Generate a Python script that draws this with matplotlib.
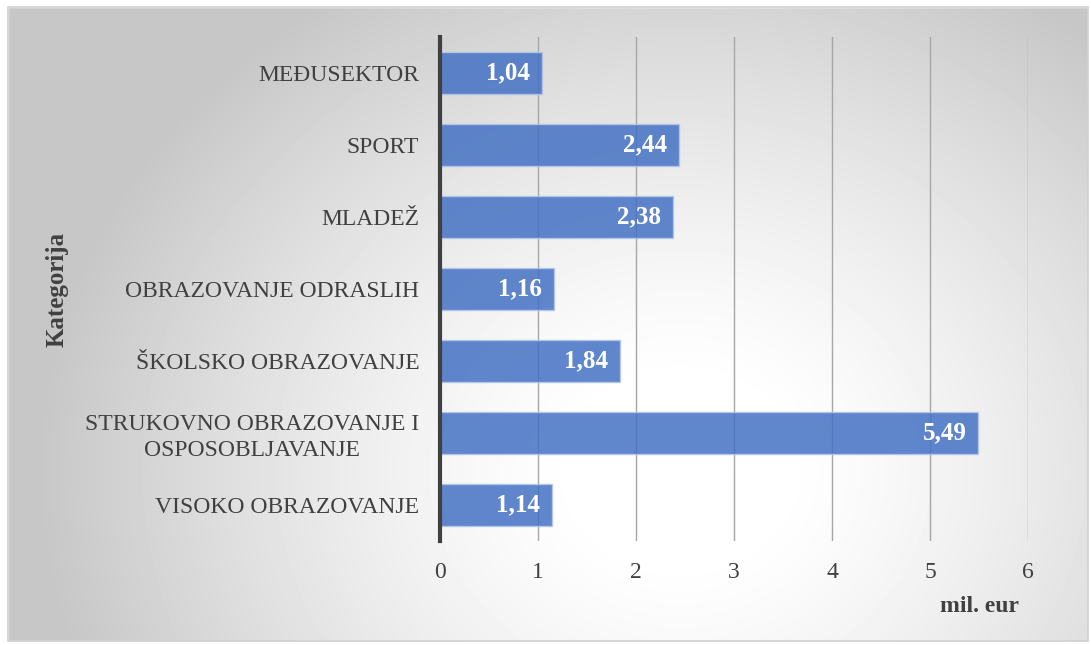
import numpy as np
import matplotlib
matplotlib.use("Agg")
import matplotlib.pyplot as plt
from matplotlib.patches import Rectangle

plt.rcParams["font.family"] = ["Liberation Serif", "DejaVu Serif"]

categories = ["MEĐUSEKTOR", "SPORT", "MLADEŽ", "OBRAZOVANJE ODRASLIH",
              "ŠKOLSKO OBRAZOVANJE", "STRUKOVNO OBRAZOVANJE I\nOSPOSOBLJAVANJE",
              "VISOKO OBRAZOVANJE"]
values = [1.04, 2.44, 2.38, 1.16, 1.84, 5.49, 1.14]
value_labels = ["1,04", "2,44", "2,38", "1,16", "1,84", "5,49", "1,14"]
xticks = [0, 1, 2, 3, 4, 5, 6]

W, H = 1091, 645
fig = plt.figure(figsize=(W / 100, H / 100), dpi=100)

# radial gradient background (white centre, grey edges)
bg = fig.add_axes([0, 0, 1, 1], zorder=-10)
yy, xx = np.mgrid[0:H, 0:W]
r = np.hypot((xx - 680) / 640.0, (yy - 470) / 560.0)
shade = 1.0 - 0.22 * np.clip((r - 0.15) / 0.85, 0, 1) ** 1.3
bg.imshow(shade, cmap="gray", vmin=0, vmax=1, extent=[0, W, H, 0], aspect="auto")
bg.add_patch(Rectangle((0, 0), W, 7, color="white"))
bg.add_patch(Rectangle((0, 641), W, 4, color="white"))
bg.add_patch(Rectangle((0, 0), 8, H, color="white"))
bg.add_patch(Rectangle((1088, 0), 3, H, color="white"))
bg.add_patch(Rectangle((8, 7), 1080, 634, fill=False, edgecolor="#cfcfcf", linewidth=1.2))
bg.set_xlim(0, W)
bg.set_ylim(H, 0)
bg.axis("off")

ax = fig.add_axes([440 / W, 104 / H, 588 / W, 504 / H])
ax.set_facecolor("none")
pos = np.arange(len(categories))
ax.barh(pos, values, height=0.58, color="#4472C4", alpha=0.85,
        edgecolor="#b4c6ea", linewidth=1, zorder=2)
for i, (v, lab) in enumerate(zip(values, value_labels)):
    ax.text(v - 0.12, i, lab, ha="right", va="center", color="white",
            fontsize=18, fontweight="bold", zorder=3)

ax.set_ylim(len(categories) - 0.5, -0.5)
ax.set_xlim(0, 6)
ax.set_xticks(xticks)
ax.set_yticks(pos)
ax.set_yticklabels(categories, fontsize=17, color="#404040", ha="right",
                   multialignment="center", linespacing=1.3)
ax.tick_params(axis="x", length=0, pad=15, labelsize=17, labelcolor="#404040")
ax.tick_params(axis="y", length=0, pad=15)
ax.grid(axis="x", color="#a6a6a6", linewidth=1, zorder=1)
for s in ["top", "right", "bottom"]:
    ax.spines[s].set_visible(False)
ax.spines["left"].set_color("#404040")
ax.spines["left"].set_linewidth(3)
ax.spines["left"].set_zorder(4)

fig.text(57 / W, 1 - 289 / H, "Kategorija", rotation=90, ha="center", va="center",
         fontsize=18, fontweight="bold", color="#404040")
fig.text(979 / W, 1 - 606 / H, "mil. eur", ha="center", va="center",
         fontsize=17, fontweight="bold", color="#404040")

fig.savefig("out.png", dpi=100)
